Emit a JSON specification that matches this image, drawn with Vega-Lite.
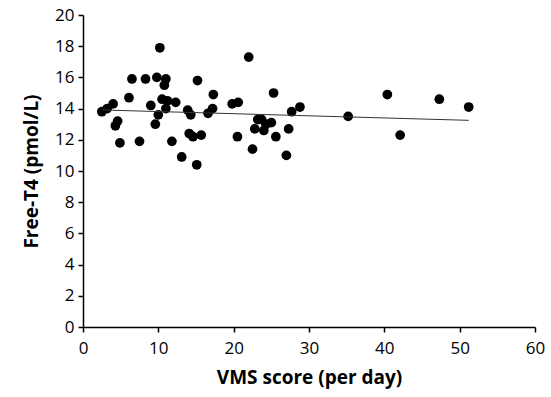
{
  "$schema": "https://vega.github.io/schema/vega-lite/v6.json",
  "width": 452,
  "height": 312,
  "autosize": {"type": "none"},
  "padding": {"left": 83, "top": 15, "right": 16, "bottom": 70},
  "background": "white",
  "config": {
    "view": {"stroke": null},
    "axis": {
      "grid": false,
      "domainColor": "black",
      "domainWidth": 1.5,
      "tickColor": "black",
      "tickWidth": 1.5,
      "tickSize": 5,
      "labelFont": "Open Sans",
      "labelFontSize": 17,
      "labelColor": "black",
      "labelOverlap": false,
      "labelBound": false,
      "labelFlush": false,
      "titleFont": "Open Sans",
      "titleFontSize": 19,
      "titleFontWeight": "bold",
      "titleColor": "black"
    }
  },
  "data": {
    "values": [
      {"vms": 2.5, "ft4": 13.8}, {"vms": 3.2, "ft4": 14.0}, {"vms": 4.0, "ft4": 14.3},
      {"vms": 4.3, "ft4": 12.9}, {"vms": 4.6, "ft4": 13.2}, {"vms": 4.9, "ft4": 11.8},
      {"vms": 6.1, "ft4": 14.7}, {"vms": 6.5, "ft4": 15.9}, {"vms": 7.5, "ft4": 11.9},
      {"vms": 8.3, "ft4": 15.9}, {"vms": 9.0, "ft4": 14.2}, {"vms": 9.6, "ft4": 13.0},
      {"vms": 9.8, "ft4": 16.0}, {"vms": 10.0, "ft4": 13.6}, {"vms": 10.2, "ft4": 17.9},
      {"vms": 10.5, "ft4": 14.6}, {"vms": 10.8, "ft4": 15.5}, {"vms": 11.0, "ft4": 15.9},
      {"vms": 11.0, "ft4": 14.0}, {"vms": 11.2, "ft4": 14.5}, {"vms": 11.8, "ft4": 11.9},
      {"vms": 12.3, "ft4": 14.4}, {"vms": 13.1, "ft4": 10.9}, {"vms": 13.9, "ft4": 13.9},
      {"vms": 14.1, "ft4": 12.4}, {"vms": 14.3, "ft4": 13.6}, {"vms": 14.6, "ft4": 12.2},
      {"vms": 15.1, "ft4": 10.4}, {"vms": 15.2, "ft4": 15.8}, {"vms": 15.7, "ft4": 12.3},
      {"vms": 16.6, "ft4": 13.7}, {"vms": 17.2, "ft4": 14.0}, {"vms": 17.3, "ft4": 14.9},
      {"vms": 19.8, "ft4": 14.3}, {"vms": 20.6, "ft4": 14.4}, {"vms": 20.5, "ft4": 12.2},
      {"vms": 22.0, "ft4": 17.3}, {"vms": 22.5, "ft4": 11.4}, {"vms": 22.8, "ft4": 12.7},
      {"vms": 23.2, "ft4": 13.3}, {"vms": 23.7, "ft4": 13.3}, {"vms": 24.0, "ft4": 12.6},
      {"vms": 24.3, "ft4": 13.0}, {"vms": 25.0, "ft4": 13.1}, {"vms": 25.3, "ft4": 15.0},
      {"vms": 25.6, "ft4": 12.2}, {"vms": 27.0, "ft4": 11.0}, {"vms": 27.3, "ft4": 12.7},
      {"vms": 27.7, "ft4": 13.8}, {"vms": 28.8, "ft4": 14.1}, {"vms": 35.2, "ft4": 13.5},
      {"vms": 40.4, "ft4": 14.9}, {"vms": 42.1, "ft4": 12.3}, {"vms": 47.3, "ft4": 14.6},
      {"vms": 51.2, "ft4": 14.1}
    ]
  },
  "encoding": {
    "x": {"field": "vms", "type": "quantitative", "scale": {"domain": [0, 60]},
          "axis": {"title": "VMS score (per day)", "values": [0,10,20,30,40,50,60], "titlePadding": 12, "labelPadding": 8}},
    "y": {"field": "ft4", "type": "quantitative", "scale": {"domain": [0, 20]},
          "axis": {"title": "Free-T4 (pmol/L)", "values": [0,2,4,6,8,10,12,14,16,18,20], "tickCount": 11, "titlePadding": 13, "labelPadding": 4}}
  },
  "layer": [
    {
      "mark": {"type": "circle", "size": 95, "color": "black", "opacity": 1}
    },
    {
      "transform": [{"regression": "ft4", "on": "vms"}],
      "mark": {"type": "line", "color": "#333333", "strokeWidth": 1}
    }
  ]
}
